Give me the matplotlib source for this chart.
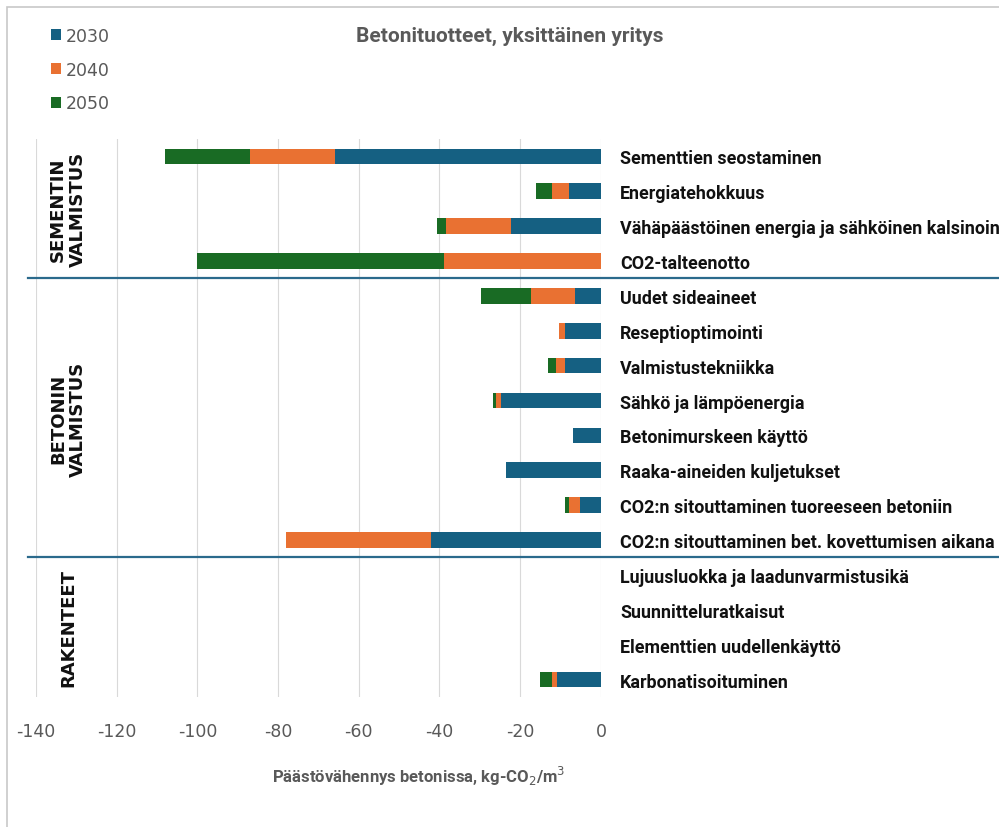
import numpy as np
import matplotlib.pyplot as plt
import matplotlib.transforms as mtransforms
from matplotlib.patches import Rectangle

plt.rcParams['axes.unicode_minus'] = False

# Toimenpiteet ylhäältä alas
toimenpiteet = [
    "Sementtien seostaminen",
    "Energiatehokkuus",
    "Vähäpäästöinen energia ja sähköinen kalsinointi",
    "CO2-talteenotto",
    "Uudet sideaineet",
    "Reseptioptimointi",
    "Valmistustekniikka",
    "Sähkö ja lämpöenergia",
    "Betonimurskeen käyttö",
    "Raaka-aineiden kuljetukset",
    "CO2:n sitouttaminen tuoreeseen betoniin",
    "CO2:n sitouttaminen bet. kovettumisen aikana",
    "Lujuusluokka ja laadunvarmistusikä",
    "Suunnitteluratkaisut",
    "Elementtien uudellenkäyttö",
    "Karbonatisoituminen",
]

# Päästövähennykset (kg-CO2/m3), kunkin vuoden lisäys edelliseen
v2030 = [-66, -8, -22.4, 0, -6.3, -9, -9, -24.7, -6.8, -23.5, -5.3, -42.2, 0, 0, 0, -10.8]
v2040 = [-21, -4, -16, -39, -10.9, -1.4, -2.2, -1.2, 0, 0, -2.6, -35.9, 0, 0, 0, -1.3]
v2050 = [-21, -4, -2.3, -61, -12.6, 0, -1.8, -0.9, 0, 0, -0.9, 0, 0, 0, 0, -2.9]

vuodet = ["2030", "2040", "2050"]
varit = ["#156082", "#E97132", "#196B24"]

ryhmat = ["SEMENTIN\nVALMISTUS", "BETONIN\nVALMISTUS", "RAKENTEET"]
ryhma_rivit = [(0, 3), (4, 11), (12, 15)]

kapea = ["Roboto", "DejaVu Sans"]

fig = plt.figure(figsize=(9.99, 8.28), dpi=100)
ax = fig.add_axes([0.036, 0.157, 0.5655, 0.674])

y = np.arange(len(toimenpiteet))
a = np.array(v2030)
b = np.array(v2040)
c = np.array(v2050)
ax.barh(y, a, height=0.45, color=varit[0], label=vuodet[0], zorder=3)
ax.barh(y, b, left=a, height=0.45, color=varit[1], label=vuodet[1], zorder=3)
ax.barh(y, c, left=a + b, height=0.45, color=varit[2], label=vuodet[2], zorder=3)

ax.set_xlim(-140, 0)
ax.set_ylim(len(toimenpiteet) - 0.5, -0.5)
ax.set_xticks(np.arange(-140, 1, 20))
ax.grid(axis="x", color="#d9d9d9", linewidth=0.8, zorder=0)
for s in ax.spines.values():
    s.set_visible(False)
ax.tick_params(axis="x", length=0, pad=18, labelsize=12.5, labelcolor="#595959")

ax.yaxis.tick_right()
ax.set_yticks(y)
ax.set_yticklabels(toimenpiteet, fontsize=12.9, fontweight="bold",
                   family=kapea, color="#111111")
ax.tick_params(axis="y", length=0, pad=14)

# ryhmien erotinviivat
tr = mtransforms.blended_transform_factory(fig.transFigure, ax.transData)
for raja in [3.5, 11.5]:
    ax.plot([0.028, 1.0], [raja, raja], transform=tr, color="#2b6a8c",
            linewidth=1.6, clip_on=False, zorder=4)

for nimi, (r0, r1) in zip(ryhmat, ryhma_rivit):
    ax.text(0.068, (r0 + r1) / 2, nimi, transform=tr, rotation=90,
            ha="center", va="center", fontsize=13, fontweight="bold",
            color="#111111", linespacing=1.15)

fig.text(0.51, 0.956, "Betonituotteet, yksittäinen yritys", ha="center", va="center",
         fontsize=15, fontweight="bold", color="#595959", family=kapea)
fig.text(0.419, 0.062, "Päästövähennys betonissa, kg-CO$_2$/m$^3$", ha="center",
         va="center", fontsize=12, fontweight="bold", color="#595959", family=kapea)

fig.legend(loc="upper left", bbox_to_anchor=(0.035, 0.985), frameon=False,
           handlelength=0.6, handleheight=0.6, handletextpad=0.3,
           labelspacing=0.9, fontsize=12.5, labelcolor="#595959")

fig.patches.append(Rectangle((0.007, -0.05), 1.2, 1.04, transform=fig.transFigure,
                             fill=False, edgecolor="#c8c8c8", linewidth=1.2))

fig.savefig("out.png", dpi=100)
